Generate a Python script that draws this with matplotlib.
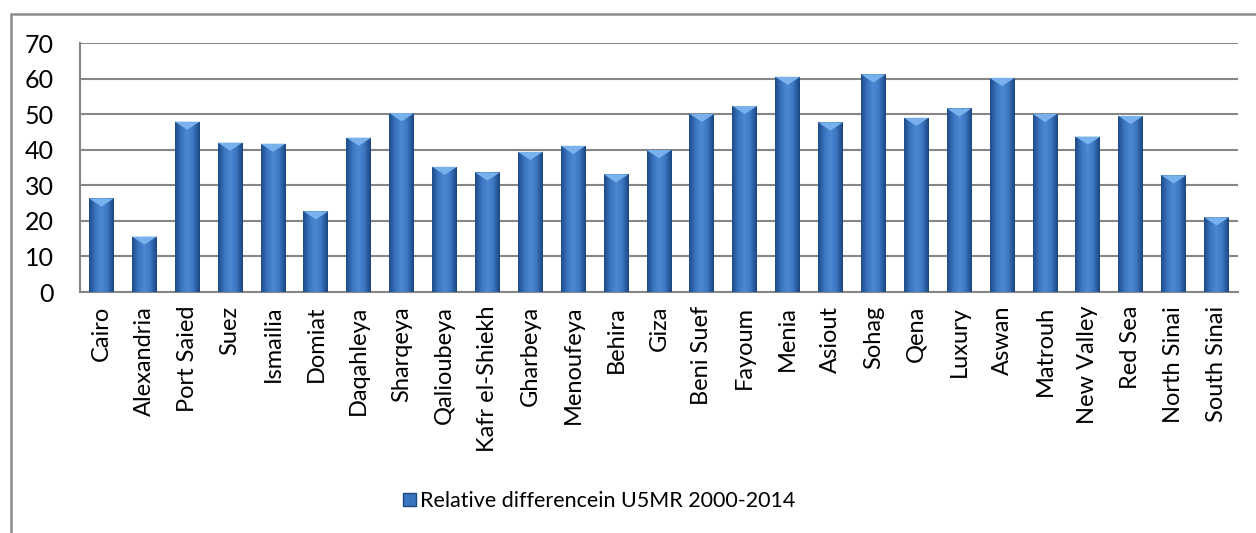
import matplotlib.pyplot as plt
import numpy as np
from matplotlib.colors import LinearSegmentedColormap
from matplotlib.patches import Rectangle, Polygon, Patch

plt.rcParams['font.family'] = ['Lato', 'DejaVu Sans']

governorates = ["Cairo", "Alexandria", "Port Saied", "Suez", "Ismailia", "Domiat",
                "Daqahleya", "Sharqeya", "Qalioubeya", "Kafr el-Shiekh", "Gharbeya",
                "Menoufeya", "Behira", "Giza", "Beni Suef", "Fayoum", "Menia", "Asiout",
                "Sohag", "Qena", "Luxury", "Aswan", "Matrouh", "New Valley", "Red Sea",
                "North Sinai", "South Sinai"]
rel_diff = [26.3, 15.6, 47.9, 42.0, 41.7, 22.7, 43.4, 50.3, 35.2, 33.6, 39.4,
            41.1, 33.1, 39.9, 50.1, 52.3, 60.5, 47.7, 61.2, 49.0, 51.6, 60.2,
            50.1, 43.7, 49.5, 32.8, 21.0]
series_name = "Relative differencein U5MR 2000-2014"

fig = plt.figure(figsize=(12.56, 5.33), dpi=100)
ax = fig.add_axes([80/1256, 1 - 292/533, 1158/1256, 249/533])

# outer chart border (runs off the right and bottom edges)
fig.patches.append(Rectangle((11/1256, -0.2), 1.5, 1.2 - 14/533, transform=fig.transFigure,
                             fill=False, edgecolor="#8c8c8c", linewidth=1.8))

shade = LinearSegmentedColormap.from_list(
    "bar_shade", ["#1d4a86", "#3a75c0", "#4d89d3", "#3b76c0", "#1b4580"])
grad = np.linspace(0, 1, 64).reshape(1, -1)

x = np.arange(len(governorates))
w = 0.58
for xi, v in zip(x, rel_diff):
    bar = ax.bar(xi, v, width=w, color="#3a75c0", zorder=3)[0]
    im = ax.imshow(grad, cmap=shade, extent=[xi - w/2, xi + w/2, 0, v],
                   aspect="auto", zorder=3.5, interpolation="bicubic")
    im.set_clip_path(bar)
    # light bevel on the bar top
    ax.add_patch(Polygon([(xi - w/2, v), (xi + w/2, v), (xi, v - 2.3)],
                         closed=True, facecolor="#79b1ec", edgecolor="none", zorder=4))

ax.set_xlim(-0.5, len(governorates) - 0.5)
ax.set_ylim(0, 70)
ax.set_yticks(range(0, 71, 10))
ax.yaxis.grid(True, color="#868686", linewidth=1.5, zorder=0)
ax.set_axisbelow(True)
ax.set_xticks(x)
ax.set_xticklabels(governorates, rotation=90, fontsize=17)
ax.tick_params(axis="y", labelsize=18, length=0, pad=19)
ax.tick_params(axis="x", length=0, pad=10)
for s in ["top", "right"]:
    ax.spines[s].set_visible(False)
for s in ["left", "bottom"]:
    ax.spines[s].set_color("#868686")
    ax.spines[s].set_linewidth(1.5)

handle = Patch(facecolor="#3a75c0", edgecolor="#1d4a86")
fig.legend([handle], [series_name], loc="center", bbox_to_anchor=(0.477, 1 - 501/533),
           frameon=False, fontsize=15.5, handlelength=0.6, handleheight=0.6,
           handletextpad=0.2)

fig.savefig("out.png", dpi=100)
